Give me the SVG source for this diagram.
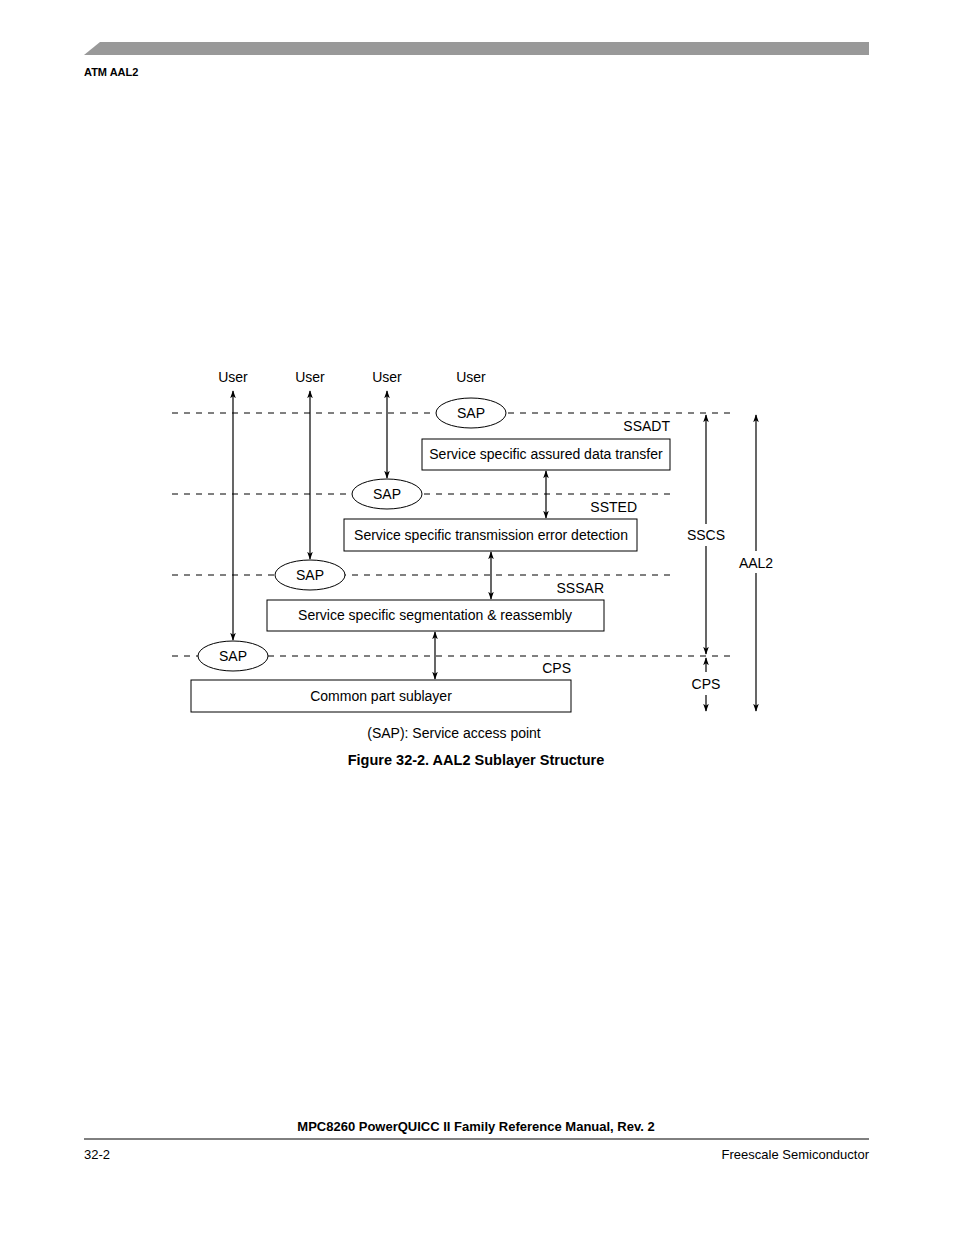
<svg xmlns="http://www.w3.org/2000/svg" width="954" height="1235" viewBox="0 0 954 1235">
<style>
text{font-family:"Liberation Sans",Arial,sans-serif;font-size:14px;fill:#000}
.b{font-weight:bold}
.d{stroke:#000;stroke-width:1;stroke-dasharray:6,6;fill:none}
.box{fill:#fff;stroke:#000;stroke-width:1}
.a{stroke:#000;stroke-width:1.2;fill:none;marker-start:url(#h);marker-end:url(#h)}
.m{text-anchor:middle}.e{text-anchor:end}
</style>
<defs><marker id="h" viewBox="0 0 10 10" refX="9" refY="5" markerWidth="8" markerHeight="8" orient="auto-start-reverse" markerUnits="userSpaceOnUse"><path d="M0,1.5 L10,5 L0,8.5 L2.5,5 Z" fill="#000"/></marker></defs>
<rect width="954" height="1235" fill="#fff"/>
<polygon points="84,55 100,42 869,42 869,55" fill="#999"/>
<text x="84" y="76" class="b" style="font-size:11px">ATM AAL2</text>
<g id="dashes">
<line class="d" x1="172" y1="413" x2="735" y2="413"/>
<line class="d" x1="172" y1="494" x2="670" y2="494"/>
<line class="d" x1="172" y1="575" x2="670" y2="575"/>
<line class="d" x1="172" y1="656" x2="735" y2="656"/>
</g>
<g id="connectors">
<line class="a" x1="233" y1="391" x2="233" y2="640"/>
<line class="a" x1="310" y1="391" x2="310" y2="559"/>
<line class="a" x1="387" y1="391" x2="387" y2="478"/>
<line class="a" x1="546" y1="471" x2="546" y2="518"/>
<line class="a" x1="491" y1="552" x2="491" y2="599"/>
<line class="a" x1="435" y1="632" x2="435" y2="679"/>
<line class="a" x1="706" y1="415" x2="706" y2="524" style="marker-end:none"/>
<line class="a" x1="706" y1="546" x2="706" y2="654" style="marker-start:none"/>
<line class="a" x1="706" y1="658" x2="706" y2="672" style="marker-end:none"/>
<line class="a" x1="706" y1="695" x2="706" y2="711" style="marker-start:none"/>
<line class="a" x1="756" y1="415" x2="756" y2="551" style="marker-end:none"/>
<line class="a" x1="756" y1="573" x2="756" y2="711" style="marker-start:none"/>
</g>
<g id="users">
<text x="233" y="382" class="m">User</text>
<text x="310" y="382" class="m">User</text>
<text x="387" y="382" class="m">User</text>
<text x="471" y="382" class="m">User</text>
</g>
<g id="sap1"><ellipse class="box" cx="471" cy="413" rx="35" ry="15"/><text x="471" y="418" class="m">SAP</text></g>
<g id="sap2"><ellipse class="box" cx="387" cy="494" rx="35" ry="15"/><text x="387" y="499" class="m">SAP</text></g>
<g id="sap3"><ellipse class="box" cx="310" cy="575" rx="35" ry="15"/><text x="310" y="580" class="m">SAP</text></g>
<g id="sap4"><ellipse class="box" cx="233" cy="656" rx="35" ry="15"/><text x="233" y="661" class="m">SAP</text></g>
<g id="ssadt"><rect class="box" x="422" y="439" width="248" height="31"/><text x="546" y="459" class="m">Service specific assured data transfer</text><text x="670" y="431" class="e">SSADT</text></g>
<g id="ssted"><rect class="box" x="344" y="519" width="293" height="32"/><text x="491" y="540" class="m">Service specific transmission error detection</text><text x="637" y="512" class="e">SSTED</text></g>
<g id="sssar"><rect class="box" x="267" y="600" width="337" height="31"/><text x="435" y="620" class="m">Service specific segmentation &amp; reassembly</text><text x="604" y="593" class="e">SSSAR</text></g>
<g id="cps"><rect class="box" x="191" y="680" width="380" height="32"/><text x="381" y="701" class="m">Common part sublayer</text><text x="571" y="673" class="e">CPS</text></g>
<text x="706" y="540" class="m">SSCS</text>
<text x="706" y="689" class="m">CPS</text>
<text x="756" y="568" class="m">AAL2</text>
<text x="454" y="738" class="m">(SAP): Service access point</text>
<text x="476" y="765" class="m b" style="font-size:14.5px">Figure 32-2. AAL2 Sublayer Structure</text>
<text x="476" y="1131" class="m b" style="font-size:13px">MPC8260 PowerQUICC II Family Reference Manual, Rev. 2</text>
<line x1="84" y1="1139" x2="869" y2="1139" stroke="#000" stroke-width="1"/>
<text x="84" y="1159" style="font-size:13px">32-2</text>
<text x="869" y="1159" class="e" style="font-size:13px">Freescale Semiconductor</text>
</svg>
